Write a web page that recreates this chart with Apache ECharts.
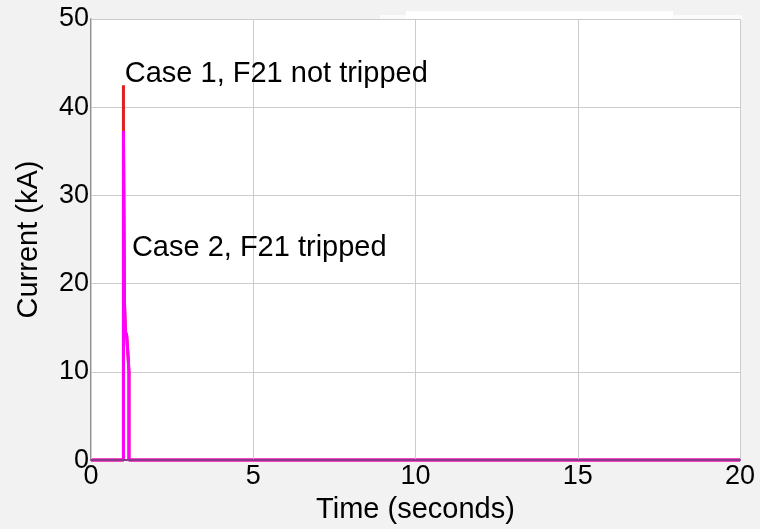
<!DOCTYPE html>
<html>
<head>
<meta charset="utf-8">
<script src="https://cdn.jsdelivr.net/npm/echarts@6/dist/echarts.min.js"></script>
<style>
html,body{margin:0;padding:0;background:#f2f2f2;}
#c{width:760px;height:529px;}
</style>
</head>
<body>
<div id="c"></div>
<script>
// Data
var case1Time    = [0, 1.0, 1.0, 1.0, 1.02, 1.03, 1.06, 1.1, 1.14, 1.17, 1.17, 20];
var case1Current = [0, 0, 42.5, 37.3, 25, 18, 14.6, 14.1, 11.9, 10, 0, 0];
var case2Time    = [0, 1.0, 1.0, 1.02, 1.03, 1.06, 1.1, 1.14, 1.17, 1.17, 20];
var case2Current = [0, 0, 37.3, 25, 18, 14.6, 14.1, 11.9, 10, 0, 0];
var labelTexts   = ['Case 1, F21 not tripped', 'Case 2, F21 tripped'];
var labelTimes   = [1.04, 1.26];
var labelValues  = [43.75, 24.05];
var xTicks = [0, 5, 10, 15, 20];
var yTicks = [0, 10, 20, 30, 40, 50];

function pairs(t, v){ return t.map(function(x,i){ return [x, v[i]]; }); }

var FONT = '"Liberation Sans", Arial, sans-serif';
var chart = echarts.init(document.getElementById('c'), null, {renderer:'canvas'});
var option = {
  backgroundColor: '#f2f2f2',
  animation: false,
  grid: {left: 91, right: 20, top: 19, bottom: 67, show: true, backgroundColor: '#ffffff', borderWidth: 0},
  xAxis: {
    type: 'value', min: xTicks[0], max: xTicks[xTicks.length-1], interval: 5,
    name: 'Time (seconds)', nameLocation: 'middle', nameGap: 28,
    nameTextStyle: {fontFamily: FONT, fontSize: 29, color: '#000'},
    axisLine: {show: true, onZero: false, lineStyle: {color: '#8a3a8a', width: 2}},
    axisTick: {show: false},
    axisLabel: {fontFamily: FONT, fontSize: 27, color: '#000', margin: 3},
    splitLine: {show: true, lineStyle: {color: '#cccccc', width: 1}},
    z: 3
  },
  yAxis: {
    type: 'value', min: yTicks[0], max: yTicks[yTicks.length-1], interval: 10,
    name: 'Current (kA)', nameLocation: 'middle', nameGap: 48, nameRotate: 90,
    nameTextStyle: {fontFamily: FONT, fontSize: 29, color: '#000'},
    axisLine: {show: true, lineStyle: {color: '#707070', width: 1.5}},
    axisTick: {show: false},
    axisLabel: {fontFamily: FONT, fontSize: 27, color: '#000', margin: 2},
    splitLine: {show: true, lineStyle: {color: '#cccccc', width: 1}}
  },
  series: [
    {type: 'line', name: 'Case 1', data: pairs(case1Time, case1Current), showSymbol: false, symbol: 'none',
     lineStyle: {color: '#dd2020', width: 3}, itemStyle: {color: '#dd2020'}, clip: false, z: 2},
    {type: 'line', name: 'Case 2', data: pairs(case2Time, case2Current), showSymbol: false, symbol: 'none',
     lineStyle: {color: '#ff00ff', width: 3}, itemStyle: {color: '#ff00ff'}, clip: false, z: 2}
  ],
  graphic: [
    {type: 'rect', left: 380, top: 15, shape: {width: 362, height: 5}, style: {fill: '#fbfbfb'}, silent: true},
    {type: 'rect', left: 406, top: 11, shape: {width: 267, height: 9}, style: {fill: '#ffffff'}, silent: true}
  ]
};
chart.setOption(option);

var g = option.graphic.slice();
labelTexts.forEach(function(txt, i){
  var p = chart.convertToPixel({gridIndex: 0}, [labelTimes[i], labelValues[i]]);
  g.push({type: 'text', x: p[0], y: p[1], z: 10,
    style: {text: txt, fill: '#000', font: '29px ' + FONT, textAlign: 'left', textVerticalAlign: 'middle'}});
});
chart.setOption({graphic: g});
</script>
</body>
</html>
